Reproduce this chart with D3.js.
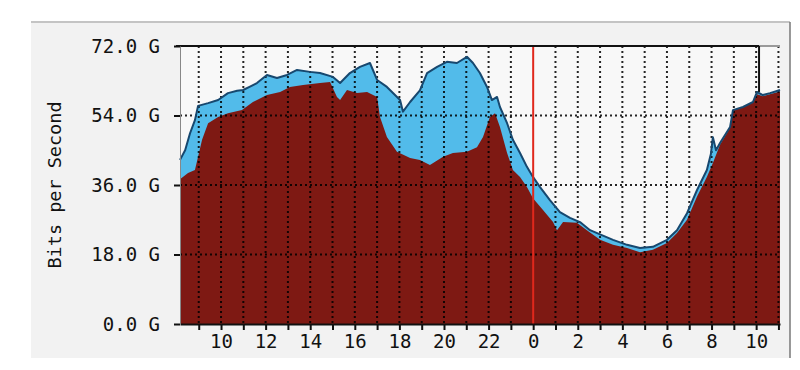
<!DOCTYPE html>
<html>
<head>
<meta charset="utf-8">
<script src="https://cdn.jsdelivr.net/npm/d3@7"></script>
<style>
	body { margin: 0; background: #fff; }
</style>
</head>
<body>
<svg id="traffic-chart" width="800" height="370"></svg>
<script>
// hours since midnight of day 1 (24 = midnight, label "0")
const inHours = [8.16, 8.39, 8.61, 8.83, 8.97, 9.42, 9.87, 10.31, 10.72, 10.99, 11.3, 11.61, 12.06, 12.51, 12.96, 13.41, 13.99, 14.44, 15.02, 15.34, 15.78, 16.23, 16.68, 17.0, 17.44, 18.03, 18.16, 18.48, 18.92, 19.24, 19.69, 20.13, 20.58, 21.03, 21.3, 21.61, 21.93, 22.15, 22.38, 22.51, 22.83, 23.09, 23.41, 23.72, 23.99, 24.3, 24.75, 25.2, 25.65, 26.1, 26.55, 27.0, 27.58, 28.21, 28.79, 29.37, 30.0, 30.45, 30.9, 31.35, 31.79, 31.97, 32.06, 32.2, 32.38, 32.83, 32.96, 33.41, 33.86, 34.04, 34.3, 34.62, 35.07];
const inValues = [42.5, 45, 49.4, 52.8, 56.5, 57.2, 58, 59.8, 60.4, 60.6, 61.5, 62.4, 64.5, 63.7, 64.5, 65.8, 65.3, 65, 64, 62.4, 65, 66.6, 67.6, 63.2, 61.4, 58, 55, 57.5, 60.5, 65, 66.6, 67.9, 67.6, 69.2, 67.6, 65, 61.4, 58, 58.8, 56.2, 52, 47.7, 44.3, 40.7, 38.1, 35.5, 32.1, 29, 27.5, 26.4, 24.3, 23.2, 21.8, 20.5, 19.7, 20, 21.8, 24.3, 28.7, 34.7, 39.9, 44, 48.4, 45, 46.9, 51, 55.4, 56.2, 57.5, 60.1, 59.3, 59.8, 60.6];

const outHours = [8.16, 8.52, 8.83, 9.15, 9.42, 9.87, 10.31, 10.94, 11.43, 12.06, 12.65, 13.09, 13.68, 14.44, 14.89, 15.2, 15.34, 15.65, 16.1, 16.55, 17.0, 17.13, 17.44, 17.89, 18.48, 18.92, 19.37, 19.96, 20.4, 21.03, 21.48, 21.75, 22.06, 22.29, 22.51, 22.83, 23.09, 23.41, 23.72, 23.99, 24.44, 24.89, 25.07, 25.34, 25.96, 26.41, 27.0, 27.58, 28.21, 28.79, 29.37, 30.0, 30.45, 30.9, 31.35, 31.79, 32.06, 32.38, 32.83, 32.96, 33.41, 33.86, 34.04, 34.3, 34.62, 35.07];
const outValues = [37.5, 39.1, 39.9, 47.7, 52, 53.6, 54.6, 55.4, 57.5, 59.3, 60.1, 61.4, 61.9, 62.4, 62.7, 58.8, 58, 60.6, 59.8, 60.1, 58.8, 53.6, 48.4, 44.6, 43, 42.5, 41.2, 43.3, 44.3, 44.6, 45.8, 48.4, 53.6, 54.6, 51, 44.3, 39.9, 38.1, 35.5, 32.6, 29.5, 26.4, 24.3, 26.4, 26.2, 24.3, 21.8, 20.5, 19.7, 18.6, 19.2, 21, 23.6, 27, 33, 38.1, 41.7, 46.4, 50.8, 55.4, 56.2, 57.5, 59.5, 59, 59.5, 60.2];

const yTicks = [0, 18, 36, 54, 72];
const hourTicks = d3.range(9, 36);
const midnightHour = 24;
const nowHour = 34.13;

function drawChart() {
	const svg = d3.select('#traffic-chart');
	svg.selectAll('*').remove();

	const marginLeft = 180;
	const marginTop = 46;
	const plotWidth = 600;
	const plotHeight = 278;
	const font = '"DejaVu Sans Mono", "Liberation Mono", monospace';

	const x = d3
		.scaleLinear()
		.domain([8.16, 35.07])
		.range([marginLeft, marginLeft + plotWidth]);
	const y = d3
		.scaleLinear()
		.domain([0, 72])
		.range([marginTop + plotHeight, marginTop]);

	const inData = inHours.map((h, i) => ({ h: h, v: inValues[i] }));
	const outData = outHours.map((h, i) => ({ h: h, v: outValues[i] }));

	// grey panel behind everything
	svg
		.append('rect')
		.attr('x', 31)
		.attr('y', 22)
		.attr('width', 759)
		.attr('height', 336)
		.attr('fill', '#f2f2f2');
	svg
		.append('line')
		.attr('x1', 31)
		.attr('x2', 790)
		.attr('y1', 22)
		.attr('y2', 22)
		.attr('stroke', '#c4c4c4')
		.attr('stroke-width', 2);
	svg
		.append('line')
		.attr('x1', 790)
		.attr('x2', 790)
		.attr('y1', 22)
		.attr('y2', 358)
		.attr('stroke', '#777')
		.attr('stroke-width', 1.5);

	svg
		.append('rect')
		.attr('x', marginLeft)
		.attr('y', marginTop)
		.attr('width', plotWidth)
		.attr('height', plotHeight)
		.attr('fill', '#f8f8f8');

	const area = d3
		.area()
		.x((d) => x(d.h))
		.y0(y(0))
		.y1((d) => y(d.v));
	const line = d3
		.line()
		.x((d) => x(d.h))
		.y((d) => y(d.v));

	svg
		.append('path')
		.datum(inData)
		.attr('fill', '#52bbea')
		.attr('d', area);

	svg
		.append('path')
		.datum(outData)
		.attr('fill', '#7e1913')
		.attr('d', area);

	// dotted grid over the areas
	const grid = svg
		.append('g')
		.attr('stroke', '#000')
		.attr('stroke-width', 2)
		.attr('stroke-dasharray', '2,3')
		.attr('stroke-opacity', 0.85);
	grid
		.selectAll('line.v')
		.data(hourTicks.filter((h) => h !== midnightHour))
		.join('line')
		.attr('class', 'v')
		.attr('x1', (d) => x(d))
		.attr('x2', (d) => x(d))
		.attr('y1', marginTop)
		.attr('y2', marginTop + plotHeight);
	grid
		.selectAll('line.h')
		.data(yTicks.filter((t) => t > 0 && t < 72))
		.join('line')
		.attr('class', 'h')
		.attr('x1', marginLeft)
		.attr('x2', marginLeft + plotWidth)
		.attr('y1', (d) => y(d))
		.attr('y2', (d) => y(d));

	svg
		.append('path')
		.datum(inData)
		.attr('fill', 'none')
		.attr('stroke', '#17486f')
		.attr('stroke-width', 2)
		.attr('stroke-linejoin', 'round')
		.attr('d', line);

	// midnight marker
	svg
		.append('line')
		.attr('x1', x(midnightHour))
		.attr('x2', x(midnightHour))
		.attr('y1', marginTop)
		.attr('y2', marginTop + plotHeight)
		.attr('stroke', '#e0281c')
		.attr('stroke-width', 2);

	// top frame: black up to "now", grey after
	svg
		.append('line')
		.attr('x1', marginLeft - 4)
		.attr('x2', x(nowHour))
		.attr('y1', marginTop)
		.attr('y2', marginTop)
		.attr('stroke', '#111')
		.attr('stroke-width', 2);
	svg
		.append('line')
		.attr('x1', x(nowHour))
		.attr('x2', marginLeft + plotWidth)
		.attr('y1', marginTop)
		.attr('y2', marginTop)
		.attr('stroke', '#9a9a9a')
		.attr('stroke-width', 2);
	const nowValue = d3.max(inData.filter((d) => Math.abs(d.h - nowHour) < 0.2), (d) => d.v);
	svg
		.append('line')
		.attr('x1', x(nowHour))
		.attr('x2', x(nowHour))
		.attr('y1', marginTop)
		.attr('y2', y(nowValue))
		.attr('stroke', '#111')
		.attr('stroke-width', 2);

	// axes
	svg
		.append('g')
		.attr('transform', `translate(0,${marginTop + plotHeight})`)
		.call(
			d3
				.axisBottom(x)
				.tickValues(hourTicks)
				.tickSize(6)
				.tickSizeOuter(0)
				.tickFormat((d) => (d % 2 === 0 ? String(d % 24) : ''))
		)
		.call((g) => g.select('.domain').attr('stroke', '#111').attr('stroke-width', 2))
		.call((g) => g.selectAll('.tick line').attr('stroke', '#111').attr('stroke-width', 2))
		.call((g) =>
			g
				.selectAll('.tick text')
				.attr('font-family', font)
				.attr('font-size', 19)
				.attr('fill', '#111')
				.attr('y', 11)
		);

	svg
		.append('g')
		.attr('transform', `translate(${marginLeft},0)`)
		.call(
			d3
				.axisLeft(y)
				.tickValues(yTicks)
				.tickSize(6)
				.tickSizeOuter(0)
				.tickPadding(14)
				.tickFormat((d) => d3.format('.1f')(d) + ' G')
		)
		.call((g) => g.select('.domain').attr('stroke', '#888').attr('stroke-width', 1))
		.call((g) => g.selectAll('.tick line').attr('stroke', '#111').attr('stroke-width', 2))
		.call((g) =>
			g
				.selectAll('.tick text')
				.attr('font-family', font)
				.attr('font-size', 19)
				.attr('fill', '#111')
		);

	svg
		.append('text')
		.attr('transform', `translate(61,${marginTop + plotHeight / 2}) rotate(-90)`)
		.attr('text-anchor', 'middle')
		.attr('font-family', font)
		.attr('font-size', 18.5)
		.attr('fill', '#111')
		.text('Bits per Second');
}

drawChart();
</script>
</body>
</html>
